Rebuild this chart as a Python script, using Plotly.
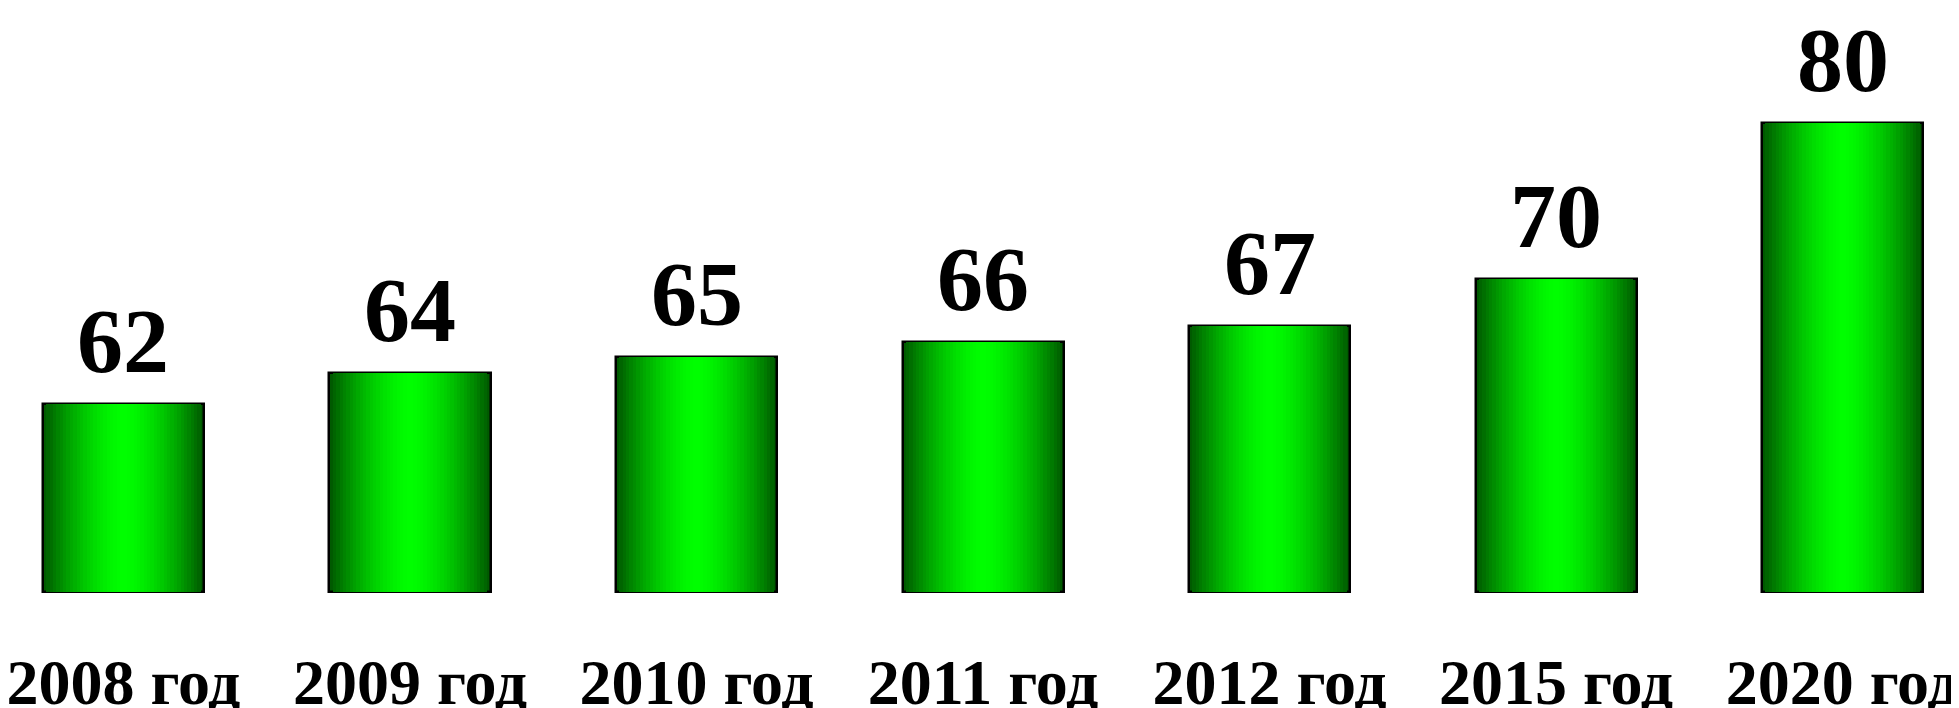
import plotly.graph_objects as go

categories = ["2008 год", "2009 год", "2010 год", "2011 год", "2012 год", "2015 год", "2020 год"]
values = [62, 64, 65, 66, 67, 70, 80]
base_value = 50

W = 0.562
N = 24
fig = go.Figure()
for k in range(N):
    x = 1 - k / N  # normalized half-width
    g = int(round(255 - (255 - 90) * x ** 1.6))
    color = f"rgb(0,{g},0)"
    fig.add_trace(go.Bar(
        x=categories,
        y=[v - base_value for v in values],
        base=base_value,
        width=W * x,
        marker=dict(color=color,
                    line=dict(color="black", width=2.5 if k == 0 else 0)),
        hoverinfo="skip",
        showlegend=False,
    ))

for c, v in zip(categories, values):
    fig.add_annotation(x=c, y=v, text=f"<b>{v}</b>", showarrow=False,
                       yanchor="bottom", yshift=10,
                       font=dict(family="Liberation Serif", size=92, color="black"))

fig.update_layout(
    width=1959, height=708,
    margin=dict(l=0, r=0, t=0, b=88),
    paper_bgcolor="white", plot_bgcolor="white",
    barmode="overlay",
    bargap=0,
    xaxis=dict(range=[-0.403, 6.434], showgrid=False, zeroline=False, showline=False,
               automargin=False,
               ticks="", ticklabelstandoff=11,
               tickfont=dict(family="Liberation Serif", size=64, color="black"),
               tickprefix="<b>", ticksuffix="</b>"),
    yaxis=dict(range=[47.7, 87.32], visible=False, automargin=False),
)
fig.write_html("out.html")
